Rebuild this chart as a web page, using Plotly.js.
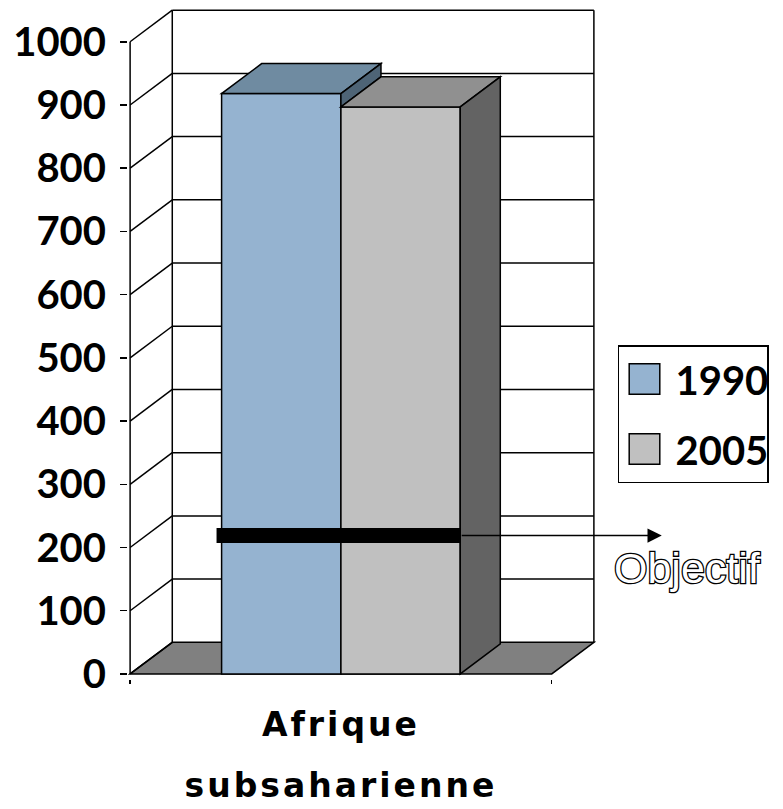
<!DOCTYPE html>
<html>
<head>
<meta charset="utf-8">
<script src="https://cdn.plot.ly/plotly-3.0.1.min.js"></script>
<style>
  html, body { margin: 0; padding: 0; background: #fff; }
  #chart { width: 783px; height: 809px; }
  .xtick text { letter-spacing: 3px; }
</style>
</head>
<body>
<div id="chart"></div>
<script>
// ---- data ----
const categories = ['Afrique subsaharienne'];
const seriesNames = ['1990', '2005'];
const values1990 = [918];
const values2005 = [897];
const objectif = [219];
const objectifLabel = 'Objectif';
const yTickVals = [0, 100, 200, 300, 400, 500, 600, 700, 800, 900, 1000];

// ---- styles / geometry constants ----
const DX = 0.1, DY = 50;          // depth of the 3D walls (axis units)
const BDX = 0.095, BDY = 47.5;    // depth of the bars
const BW = 0.283;                 // bar width
const offsets = [-BW, 0];
const frontCol = ['#95B3D0', '#C0C0C0'];
const topCol = ['#6F8BA1', '#909090'];
const sideCol = ['#4E6476', '#636363'];
const LW = 1.5;
const yMax = yTickVals[yTickVals.length - 1];

const seriesVals = [values1990, values2005];
const traces = seriesVals.map((vals, i) => ({
  type: 'bar',
  name: seriesNames[i],
  legendgroup: 'g' + i,
  x: categories,
  y: vals,
  width: BW,
  offset: offsets[i],
  marker: { color: frontCol[i], line: { color: '#000', width: LW } },
  hoverinfo: 'x+y+name'
}));

const shapes = [];
// floor
shapes.push({
  type: 'path', layer: 'below', xref: 'x', yref: 'y',
  path: `M${-0.5},0 L${0.5},0 L${0.5 + DX},${DY} L${-0.5 + DX},${DY} Z`,
  fillcolor: '#808080', line: { color: '#000', width: LW }
});
// back wall gridlines and side-wall diagonals
yTickVals.forEach(v => {
  if (v > 0) shapes.push({ type: 'line', layer: 'below', xref: 'x', yref: 'y',
    x0: -0.5 + DX, x1: 0.5 + DX, y0: v + DY, y1: v + DY, line: { color: '#000', width: LW } });
  shapes.push({ type: 'line', layer: 'below', xref: 'x', yref: 'y',
    x0: -0.5, x1: -0.5 + DX, y0: v, y1: v + DY, line: { color: '#000', width: LW } });
});
// back wall verticals
[-0.5 + DX, 0.5 + DX].forEach(xv => shapes.push({ type: 'line', layer: 'below', xref: 'x', yref: 'y',
  x0: xv, x1: xv, y0: DY, y1: yMax + DY, line: { color: '#000', width: LW } }));
// front value axis
shapes.push({ type: 'line', layer: 'below', xref: 'x', yref: 'y',
  x0: -0.5, x1: -0.5, y0: 0, y1: yMax, line: { color: '#000', width: LW } });

// bar tops and sides
seriesVals.forEach((vals, i) => {
  const v = vals[0];
  const x0 = offsets[i], x1 = offsets[i] + BW;
  shapes.push({ type: 'path', layer: 'above', xref: 'x', yref: 'y',
    path: `M${x0},${v} L${x1},${v} L${x1 + BDX},${v + BDY} L${x0 + BDX},${v + BDY} Z`,
    fillcolor: topCol[i], line: { color: '#000', width: LW } });
  let lo = 0;
  if (i < seriesVals.length - 1) lo = seriesVals[i + 1][0];
  if (lo < v) shapes.push({ type: 'path', layer: 'above', xref: 'x', yref: 'y',
    path: `M${x1},${lo} L${x1},${v} L${x1 + BDX},${v + BDY} L${x1 + BDX},${lo + BDY} Z`,
    fillcolor: sideCol[i], line: { color: '#000', width: LW } });
});

// objectif bar line
const barsLeft = offsets[0], barsRight = offsets[offsets.length - 1] + BW;
shapes.push({ type: 'line', layer: 'above', xref: 'x', yref: 'y',
  x0: barsLeft - 0.012, x1: barsRight, y0: objectif[0], y1: objectif[0],
  line: { color: '#000', width: 15 } });

const annotations = [
  { xref: 'x', yref: 'y', axref: 'x', ayref: 'y', x: 0.761, y: objectif[0], ax: barsRight, ay: objectif[0],
    text: '', showarrow: true, arrowhead: 2, arrowsize: 1.9, arrowwidth: 1.5, arrowcolor: '#000' },
  { xref: 'paper', yref: 'y', x: 1.195, y: 167, xanchor: 'center', yanchor: 'middle',
    text: objectifLabel, showarrow: false,
    font: { family: 'Liberation Sans, Arial, sans-serif', size: 43, color: '#fff' } }
];

const tickText = categories.map(c => '<span style="font-size:33px">' + c.replace(' ', '<br>') + '</span>');

const layout = {
  width: 783, height: 809,
  margin: { l: 128, r: 187, t: 7, b: 130, autoexpand: false },
  paper_bgcolor: '#fff', plot_bgcolor: '#fff',
  barmode: 'group',
  showlegend: true,
  legend: {
    x: 1.047, y: 0.497, xanchor: 'left', yanchor: 'top',
    bordercolor: '#000', borderwidth: 1.5, bgcolor: '#fff',
    font: { family: 'Lato, sans-serif', size: 40, weight: 700, color: '#000' },
    tracegroupgap: 15, itemwidth: 40
  },
  xaxis: {
    type: 'category', range: [-0.505, 0.605],
    tickmode: 'array', tickvals: categories, ticktext: tickText,
    tickson: 'boundaries', ticks: 'outside', ticklen: 4, tickwidth: 1.5, tickcolor: '#000',
    showline: false, showgrid: false, zeroline: false,
    ticklabelstandoff: 9,
    tickfont: { family: 'DejaVu Sans, sans-serif', size: 47, weight: 700, color: '#000' },
    fixedrange: true
  },
  yaxis: {
    range: [-8, 1055], tickmode: 'array', tickvals: yTickVals,
    ticks: 'outside', ticklen: 7, tickwidth: 1.5, tickcolor: '#000',
    showline: false, showgrid: false, zeroline: false,
    ticklabelstandoff: 6,
    tickfont: { family: 'Lato, sans-serif', size: 40, weight: 700, color: '#000' },
    fixedrange: true
  },
  shapes: shapes,
  annotations: annotations
};

Plotly.newPlot('chart', traces, layout, { displayModeBar: false, staticPlot: true }).then(gd => {
  document.querySelectorAll('.legend .legendpoints path').forEach(p => {
    const t = p.getAttribute('transform') || '';
    p.setAttribute('transform', t + ' scale(2.55)');
    p.style.vectorEffect = 'non-scaling-stroke';
  });
  document.querySelectorAll('.legend text.legendtext').forEach(t => {
    const x = parseFloat(t.getAttribute('x') || '0');
    t.setAttribute('x', x + 6);
  });
  document.querySelectorAll('g.annotation text.annotation-text').forEach(t => {
    t.style.stroke = '#000';
    t.style.strokeWidth = '2.6px';
    t.style.paintOrder = 'stroke';
    t.style.fill = '#fff';
  });
});
</script>
</body>
</html>
